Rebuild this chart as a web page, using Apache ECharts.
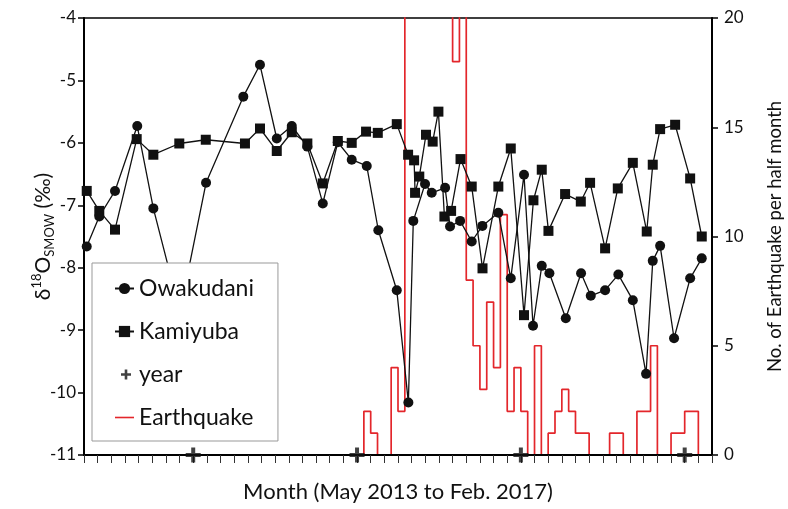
<!DOCTYPE html>
<html>
<head>
<meta charset="utf-8">
<script src="https://cdn.jsdelivr.net/npm/echarts@6/dist/echarts.min.js"></script>
<style>
  html, body { margin: 0; padding: 0; background: #fff; }
  #chart { width: 788px; height: 509px; }
</style>
</head>
<body>
<div id="chart"></div>
<script>
// Sampling dates as months after May 2013 (0 = start of May 2013)
const owakMonth = [0.2, 1.12, 2.27, 3.9, 5.08, 7.03, 8.94, 11.67, 12.89, 14.12, 15.22, 16.36, 17.49, 18.59,
  19.61, 20.71, 21.56, 22.91, 23.76, 24.12, 24.98, 25.47, 26.45, 26.81, 27.55, 28.4, 29.18, 30.35, 31.26,
  32.23, 32.89, 33.53, 34.09, 35.29, 36.41, 37.12, 38.17, 39.14, 40.2, 41.17, 41.66, 42.2, 43.22, 44.4, 45.25];
const owakD18O = [-7.66, -7.18, -6.77, -5.73, -7.05, -8.71, -6.64, -5.26, -4.75, -5.93, -5.73, -6.06, -6.97, -5.99,
  -6.27, -6.37, -7.40, -8.36, -10.16, -7.25, -6.66, -6.80, -6.72, -7.34, -7.25, -7.58, -7.33, -7.12, -8.17,
  -6.51, -8.93, -7.97, -8.09, -8.81, -8.09, -8.45, -8.36, -8.11, -8.52, -9.70, -7.89, -7.65, -9.13, -8.17, -7.85];

const kamiMonth = [0.2, 1.12, 2.27, 3.86, 5.08, 6.98, 8.92, 11.79, 12.89, 14.12, 15.22, 16.36, 17.49, 18.59,
  19.61, 20.66, 21.52, 22.91, 23.74, 24.18, 24.25, 24.56, 25.05, 25.54, 25.96, 26.4, 26.89, 27.58, 28.4,
  29.19, 30.35, 31.26, 32.23, 32.92, 33.53, 34.02, 35.24, 36.39, 37.07, 38.17, 39.1, 40.2, 41.22, 41.66,
  42.2, 43.3, 44.4, 45.25];
const kamiD18O = [-6.77, -7.09, -7.39, -5.94, -6.19, -6.01, -5.95, -6.01, -5.77, -6.13, -5.83, -6.01, -6.65, -5.97,
  -6.00, -5.82, -5.84, -5.70, -6.19, -6.28, -6.80, -6.54, -5.87, -5.98, -5.50, -7.18, -7.09, -6.26, -6.70,
  -8.01, -6.70, -6.09, -8.76, -6.92, -6.43, -7.41, -6.82, -6.94, -6.64, -7.69, -6.73, -6.32, -7.42, -6.35,
  -5.78, -5.71, -6.57, -7.50];

// January of each year (2014-2017)
const yearMonths = [8, 20, 32, 44];

// Earthquakes per half month, May 2013 - Feb 2017 (92 bins); counts above 20 run off the scale
const quakeCounts = [
  0, 0, 0, 0, 0, 0, 0, 0, 0, 0, 0, 0, 0, 0, 0, 0, 0, 0, 0, 0,
  0, 0, 0, 0, 0, 0, 0, 0, 0, 0, 0, 0, 0, 0, 0, 0, 0, 0, 0, 0,
  0, 2, 1, 0, 0, 4, 2, 30, 45, 60, 50, 40, 35, 25, 18, 22, 8, 5, 3, 7,
  4, 11, 2, 4, 2, 0, 5, 0, 1, 2, 3, 2, 1, 1, 0, 0, 0, 1, 1, 0,
  0, 2, 2, 5, 0, 0, 1, 1, 2, 2, 0, 0
];

const FONT = 'Lato, "Open Sans", sans-serif';

const owakData = owakMonth.map((m, i) => [m, owakD18O[i]]);
const kamiData = kamiMonth.map((m, i) => [m, kamiD18O[i]]);
const yearData = yearMonths.map(m => [m, -11]);
const quakeData = quakeCounts.map((c, i) => [i / 2, c]);
quakeData.push([quakeCounts.length / 2, quakeCounts[quakeCounts.length - 1]]);

const plusSymbol = 'path://M4.4,0H7.6V4.4H12V7.6H7.6V12H4.4V7.6H0V4.4H4.4Z';
const plusLegend = 'path://M0,0L0,0ZM19,14L19,14ZM9.7,2H12.3V5.7H16V8.3H12.3V12H9.7V8.3H6V5.7H9.7Z';
const redLineLegend = 'path://M0,6.2H19V7.8H0Z';

const chart = echarts.init(document.getElementById('chart'), null, { renderer: 'canvas' });
chart.setOption({
  animation: false,
  backgroundColor: '#fff',
  grid: {
    left: 84, right: 76, top: 18, bottom: 54,
    outerBoundsMode: 'none',
    show: true, borderColor: '#000', borderWidth: 1.5, backgroundColor: 'transparent'
  },
  legend: {
    orient: 'vertical',
    left: 92, top: 263,
    padding: [14, 24, 12, 22],
    itemGap: 20,
    itemWidth: 19,
    itemHeight: 14,
    backgroundColor: '#fff',
    borderColor: '#999',
    borderWidth: 1,
    textStyle: { fontFamily: FONT, fontSize: 23, color: '#111' },
    data: ['Owakudani', 'Kamiyuba',
      { name: 'year', icon: plusLegend, itemStyle: { color: '#111' } },
      { name: 'Earthquake', icon: redLineLegend, itemStyle: { color: '#e3262b' } }]
  },
  xAxis: {
    type: 'value',
    min: 0, max: 46, interval: 1,
    z: 5,
    name: 'Month (May 2013 to Feb. 2017)',
    nameLocation: 'middle',
    nameGap: 26,
    nameMoveOverlap: false,
    nameTextStyle: { fontFamily: FONT, fontSize: 22, color: '#111' },
    axisLine: { show: true, onZero: false, lineStyle: { color: '#000', width: 2 } },
    axisTick: { show: true, inside: false, length: 8, lineStyle: { color: '#333', width: 1 } },
    axisLabel: { show: false },
    splitLine: { show: false }
  },
  yAxis: [{
    type: 'value',
    min: -11, max: -4, interval: 1,
    position: 'left',
    name: '{b|δ}{sup|18}{b|O}{sub|SMOW}{b| (‰)}',
    nameLocation: 'middle',
    nameGap: 28,
    nameMoveOverlap: false,
    nameRotate: 90,
    nameTextStyle: {
      fontFamily: FONT, color: '#111',
      rich: {
        b: { fontFamily: FONT, fontSize: 21, lineHeight: 26, color: '#111' },
        sup: { fontFamily: FONT, fontSize: 13, lineHeight: 14, verticalAlign: 'top', color: '#111' },
        sub: { fontFamily: FONT, fontSize: 13, lineHeight: 14, verticalAlign: 'bottom', color: '#111' }
      }
    },
    axisLine: { show: true, lineStyle: { color: '#000', width: 2 } },
    axisTick: { show: true, inside: false, length: 6, lineStyle: { color: '#000', width: 1.5 } },
    axisLabel: { fontFamily: FONT, fontSize: 17, color: '#111', margin: 8 },
    splitLine: { show: false }
  }, {
    type: 'value',
    min: 0, max: 20, interval: 5,
    position: 'right',
    name: 'No. of Earthquake per half month',
    nameLocation: 'middle',
    nameGap: 54,
    nameMoveOverlap: false,
    nameRotate: 90,
    nameTextStyle: { fontFamily: FONT, fontSize: 18.5, color: '#111' },
    axisLine: { show: true, lineStyle: { color: '#000', width: 2 } },
    axisTick: { show: true, inside: false, length: 6, lineStyle: { color: '#000', width: 1.5 } },
    axisLabel: { fontFamily: FONT, fontSize: 17, color: '#111', margin: 12 },
    splitLine: { show: false }
  }],
  series: [{
    name: 'Earthquake',
    type: 'line',
    yAxisIndex: 1,
    step: 'end',
    data: quakeData,
    showSymbol: false,
    symbol: 'none',
    clip: true,
    z: 1,
    lineStyle: { color: '#e3262b', width: 1.7 },
    itemStyle: { color: '#e3262b' }
  }, {
    name: 'Kamiyuba',
    type: 'line',
    data: kamiData,
    symbol: 'rect',
    symbolSize: 10,
    z: 3,
    lineStyle: { color: '#111', width: 1.3 },
    itemStyle: { color: '#111' }
  }, {
    name: 'Owakudani',
    type: 'line',
    data: owakData,
    symbol: 'circle',
    symbolSize: 10,
    z: 3,
    lineStyle: { color: '#111', width: 1.3 },
    itemStyle: { color: '#111' }
  }, {
    name: 'year',
    type: 'scatter',
    data: yearData,
    symbol: plusSymbol,
    symbolSize: 15,
    clip: false,
    z: 6,
    itemStyle: { color: '#111' }
  }]
});
</script>
</body>
</html>
